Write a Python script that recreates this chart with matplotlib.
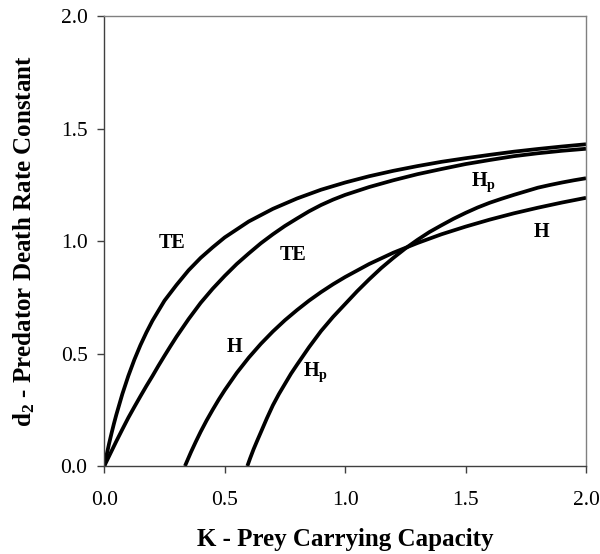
import matplotlib
matplotlib.use("Agg")
import matplotlib.pyplot as plt

plt.rcParams['font.family'] = ['Liberation Serif', 'DejaVu Serif']
plt.rcParams['mathtext.fontset'] = 'custom'
plt.rcParams['mathtext.rm'] = 'Liberation Serif:bold'
plt.rcParams['mathtext.it'] = 'Liberation Serif:bold'
plt.rcParams['mathtext.bf'] = 'Liberation Serif:bold'

# Curve data
te1_k = [0.0, 0.01, 0.02, 0.03, 0.04, 0.05, 0.075, 0.1, 0.125, 0.15, 0.175, 0.2, 0.25, 0.3, 0.35,
         0.4, 0.45, 0.5, 0.6, 0.7, 0.8, 0.9, 1.0, 1.1, 1.2, 1.3, 1.4, 1.5, 1.6, 1.7, 1.8, 1.9, 2.0]
te1_d = [0.0, 0.051, 0.10, 0.145, 0.188, 0.228, 0.320, 0.401, 0.473, 0.537, 0.594, 0.646, 0.735, 0.805, 0.870,
         0.925, 0.972, 1.016, 1.087, 1.143, 1.189, 1.228, 1.26, 1.288, 1.312, 1.333, 1.352, 1.368, 1.383, 1.397, 1.409, 1.420, 1.43]

te2_k = [0.0, 0.025, 0.05, 0.075, 0.1, 0.125, 0.15, 0.175, 0.2, 0.225, 0.25, 0.275, 0.3, 0.35, 0.4, 0.45,
         0.5, 0.55, 0.6, 0.65, 0.7, 0.75, 0.8, 0.85, 0.9, 0.95, 1.0, 1.1, 1.2, 1.3, 1.4, 1.5, 1.6, 1.7, 1.8, 1.9, 2.0]
te2_d = [0.0, 0.055, 0.11, 0.163, 0.215, 0.263, 0.31, 0.356, 0.40, 0.446, 0.49, 0.533, 0.575, 0.653, 0.725, 0.788,
         0.845, 0.898, 0.945, 0.990, 1.03, 1.067, 1.10, 1.132, 1.16, 1.184, 1.205, 1.24, 1.27, 1.297, 1.32, 1.342, 1.36, 1.377, 1.39, 1.401, 1.41]

h_k = [0.335, 0.345, 0.36, 0.38, 0.4, 0.425, 0.45, 0.475, 0.5, 0.55, 0.6, 0.65, 0.7, 0.75, 0.8, 0.85,
       0.9, 0.95, 1.0, 1.1, 1.2, 1.3, 1.4, 1.5, 1.6, 1.7, 1.8, 1.9, 2.0]
h_d = [0.0, 0.025, 0.062, 0.108, 0.152, 0.203, 0.25, 0.295, 0.337, 0.414, 0.482, 0.543, 0.598, 0.648, 0.693, 0.735,
       0.773, 0.808, 0.84, 0.898, 0.948, 0.991, 1.03, 1.064, 1.095, 1.123, 1.148, 1.171, 1.192]

hp_k = [0.594, 0.605, 0.62, 0.635, 0.65, 0.675, 0.7, 0.725, 0.75, 0.775, 0.8, 0.85, 0.9, 0.95, 1.0, 1.05,
        1.1, 1.15, 1.2, 1.25, 1.3, 1.35, 1.4, 1.45, 1.5, 1.55, 1.6, 1.65, 1.7, 1.75, 1.8, 1.85, 1.9, 1.95, 2.0]
hp_d = [0.0, 0.033, 0.075, 0.113, 0.15, 0.212, 0.27, 0.32, 0.365, 0.41, 0.45, 0.528, 0.60, 0.663, 0.72, 0.777,
        0.83, 0.88, 0.925, 0.967, 1.005, 1.04, 1.07, 1.099, 1.125, 1.149, 1.17, 1.188, 1.205, 1.221, 1.237, 1.249, 1.26, 1.270, 1.279]

labels = ['TE', 'TE', 'H', r'H$_\mathregular{p}$', r'H$_\mathregular{p}$', 'H']
label_x = [0.283, 0.785, 0.541, 0.878, 1.573, 1.816]
label_y = [0.993, 0.939, 0.530, 0.418, 1.262, 1.038]

ticks = [0.0, 0.5, 1.0, 1.5, 2.0]
tick_labels = ['0.0', '0.5', '1.0', '1.5', '2.0']

fig = plt.figure(figsize=(6.0, 5.54), dpi=100)
ax = fig.add_axes([0.1738, 0.1588, 0.8029, 0.8123])

for k, d in [(te1_k, te1_d), (te2_k, te2_d), (h_k, h_d), (hp_k, hp_d)]:
    ax.plot(k, d, color='black', lw=2.7, solid_capstyle='butt', solid_joinstyle='round')

for t, x, y in zip(labels, label_x, label_y):
    ax.text(x, y, t, ha='center', va='center', fontsize=14.5, fontweight='bold')

ax.set_xlim(0, 2)
ax.set_ylim(0, 2)
ax.set_xticks(ticks)
ax.set_xticklabels(tick_labels)
ax.set_yticks(ticks)
ax.set_yticklabels(tick_labels)
ax.tick_params(axis='both', direction='out', length=5, width=1, labelsize=15.5, color='#404040')
ax.tick_params(axis='x', pad=13)
ax.tick_params(axis='y', pad=7)

for s in ['left', 'bottom']:
    ax.spines[s].set_color('#404040')
    ax.spines[s].set_linewidth(1)
for s in ['top', 'right']:
    ax.spines[s].set_color('#808080')
    ax.spines[s].set_linewidth(1)

ax.set_xlabel('K - Prey Carrying Capacity', fontsize=18, fontweight='bold', labelpad=13)
ax.set_ylabel(r'd$_\mathregular{2}$ - Predator Death Rate Constant', fontsize=18, fontweight='bold', labelpad=17)

fig.savefig('out.png', dpi=100)
